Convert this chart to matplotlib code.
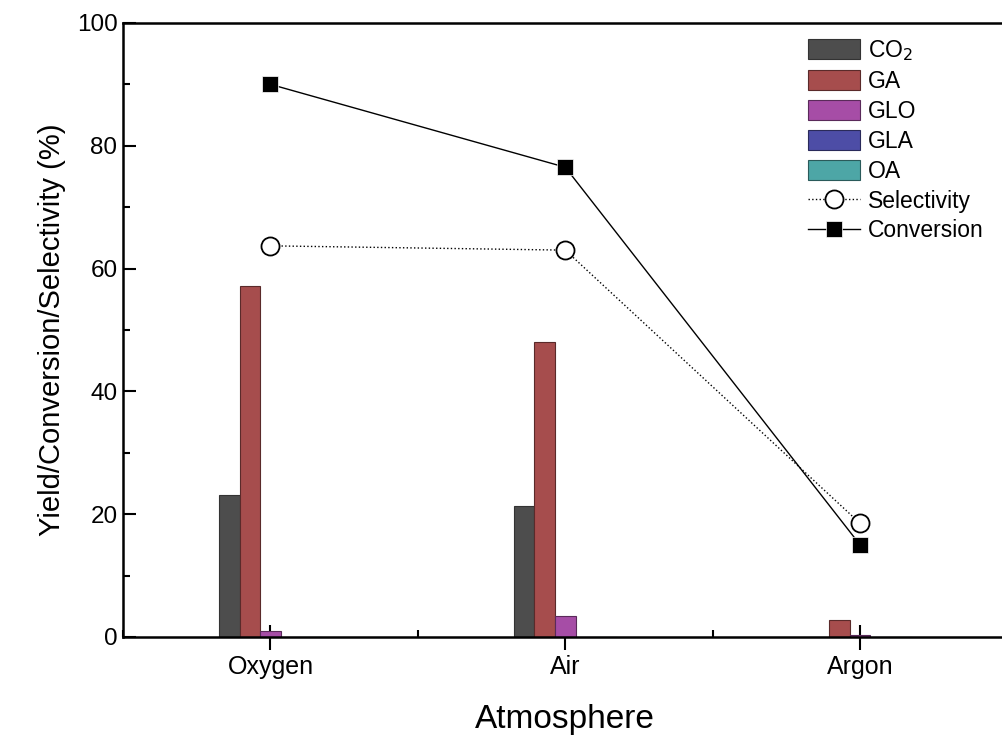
import numpy as np
import matplotlib.pyplot as plt
from matplotlib.ticker import MultipleLocator

plt.rcParams['font.family'] = ['Liberation Sans', 'DejaVu Sans']

# data
atmospheres = ['Oxygen', 'Air', 'Argon']
co2 = [23.1, 21.3, 0.0]
ga = [57.2, 48.1, 2.8]
glo = [1.0, 3.4, 0.3]
gla = [0.0, 0.0, 0.0]
oa = [0.0, 0.0, 0.0]
selectivity = [63.7, 63.0, 18.5]
conversion = [90.0, 76.5, 15.0]

fig = plt.figure(figsize=(10.02, 7.38), dpi=100)
ax = fig.add_axes([0.1228, 0.1369, 0.8827, 0.832])

x = np.arange(len(atmospheres))
w = 0.07
series = [('CO$_2$', co2, '#4d4d4d', '#333333'),
          ('GA', ga, '#a64d4d', '#5a2a2a'),
          ('GLO', glo, '#a64da6', '#5a2a5a'),
          ('GLA', gla, '#4d4da6', '#2a2a5a'),
          ('OA', oa, '#4da6a6', '#2a5a5a')]
handles = []
for i, (name, vals, col, ec) in enumerate(series):
    b = ax.bar(x + (i - 2) * w, vals, width=w, color=col, edgecolor=ec,
               linewidth=0.8, label=name, zorder=2)
    handles.append(b)

l1, = ax.plot(x, selectivity, ls=':', color='black', lw=1, marker='o', ms=13,
              mfc='white', mec='black', mew=1.3, label='Selectivity', zorder=3)
l2, = ax.plot(x, conversion, ls='-', color='black', lw=1, marker='s', ms=12,
              mfc='black', mec='white', mew=0.5, label='Conversion', zorder=3)
handles += [l1, l2]

ax.set_xlim(-0.5, 2.5)
ax.set_ylim(0, 100)
ax.set_xticks(x)
ax.set_xticklabels(atmospheres)
ax.xaxis.set_minor_locator(MultipleLocator(0.5))
ax.yaxis.set_major_locator(MultipleLocator(20))
ax.yaxis.set_minor_locator(MultipleLocator(10))
ax.tick_params(axis='y', which='major', direction='in', length=9, width=1.5, labelsize=17.5, pad=4)
ax.tick_params(axis='y', which='minor', direction='in', length=5, width=1.5)
ax.tick_params(axis='x', which='major', direction='inout', length=18, width=1.5, labelsize=18, pad=4)
ax.tick_params(axis='x', which='minor', direction='in', length=5, width=1.5)
for s in ax.spines.values():
    s.set_linewidth(1.8)

ax.set_xlabel('Atmosphere', fontsize=24, labelpad=18)
ax.set_ylabel('Yield/Conversion/Selectivity (%)', fontsize=21, labelpad=8)

ax.legend(handles=handles, loc='upper left', bbox_to_anchor=(0.7636, 0.99),
          frameon=False, fontsize=16.5, handlelength=2.3, handleheight=0.95,
          labelspacing=0.3, handletextpad=0.35, borderaxespad=0)

fig.savefig('out.png', dpi=100)
